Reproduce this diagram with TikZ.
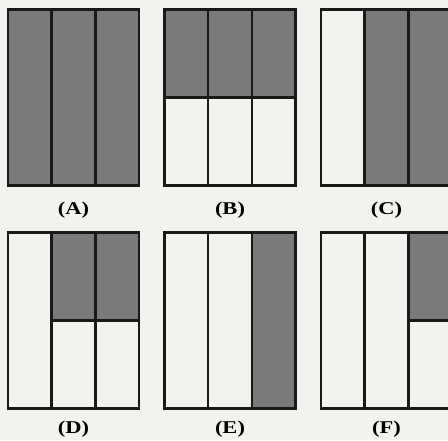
\documentclass[tikz,border=0pt]{standalone}
\usepackage{fontspec}
\setmainfont{Liberation Serif}
\definecolor{paper}{RGB}{243,242,239}
\newcommand\pw{131}
\newcommand\ph{176}
% #1,#2 top left corner; #3 kind of each column: 0 empty, 1 top half, 2 full
\newcommand\panel[3]{%
  \foreach \k [count=\i from 0] in {#3}{
    \pgfmathsetmacro\xa{#1+\i*\pw/3}
    \ifnum\k=2 \fill[cellfill] (\xa,#2) rectangle ++(\pw/3,\ph);\fi
    \ifnum\k=1 \fill[cellfill] (\xa,#2) rectangle ++(\pw/3,\ph/2);
      \draw[frame] (\xa,#2+\ph/2) -- ++(\pw/3,0);\fi
  }
  \draw[frame] (#1,#2) rectangle ++(\pw,\ph);
  \draw[frame] (#1+\pw/3,#2) -- ++(0,\ph) (#1+2*\pw/3,#2) -- ++(0,\ph);
}
\begin{document}
\begin{tikzpicture}[x=1pt,y=-1pt,
frame/.style={draw=black!90,line width=2.6pt},
cellfill/.style={fill=black!52},
lbl/.style={font=\fontsize{18}{18}\selectfont\bfseries,xscale=1.25,transform shape}]
\useasboundingbox (0,0) rectangle (448,440);
\clip (0,0) rectangle (448,440);
\fill[paper] (0,0) rectangle (448,440);
% top row
\panel{8}{9.5}{2,2,2}
\panel{164.5}{9.5}{1,1,1}
\panel{321}{9.5}{0,2,2}
% bottom row
\panel{8}{232.5}{0,1,1}
\panel{164.5}{232.5}{0,0,2}
\panel{321}{232.5}{0,0,1}
\node[lbl] (labA) at (73.5,210) {(A)};
\node[lbl] (labB) at (230,210) {(B)};
\node[lbl] (labC) at (386.5,210) {(C)};
\node[lbl] (labD) at (73.5,429) {(D)};
\node[lbl] (labE) at (230,429) {(E)};
\node[lbl] (labF) at (386.5,429) {(F)};
\end{tikzpicture}
\end{document}
